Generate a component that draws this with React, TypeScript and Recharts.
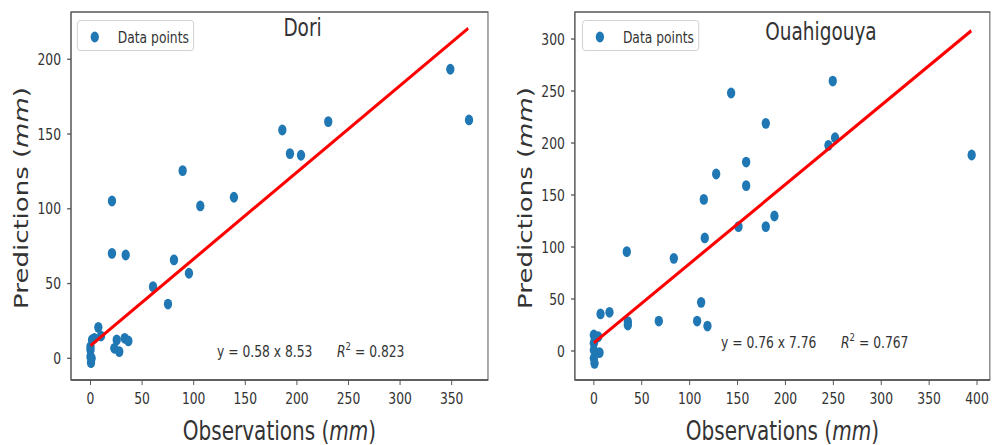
import React from 'react';
import { ScatterChart, Scatter, XAxis, YAxis, ReferenceArea, Legend } from 'recharts';

// ---------- data ----------
const doriObs = [348.7, 366.8, 230.4, 185.9, 193.3, 204.0, 89.3, 139.0, 106.4, 20.8, 20.8, 34.1, 80.9, 95.4, 60.6, 75.1, 7.6, 3.7, 10.2, 25.4, 33.1, 36.7, 23.1, 27.9, 0, 0, 0.5, 1.1, 0, 1.5];
const doriPred = [193.3, 159.4, 158.3, 152.7, 136.9, 135.8, 125.5, 107.7, 101.9, 105.2, 70.2, 69.1, 65.8, 56.9, 47.9, 36.3, 20.7, 13.4, 14.9, 12.3, 13.4, 11.6, 6.7, 4.5, 5.6, 1.1, -2.9, 0, 7.8, 12.3];
const doriFitX = [0, 366];
const doriFitY = [8.5, 220.7];

const ouaObs = [249.4, 143.3, 179.5, 244.9, 251.8, 394.4, 159.0, 127.7, 159.0, 114.8, 188.5, 151.0, 179.5, 115.8, 34.4, 83.5, 112.0, 7.0, 16.3, 35.5, 35.5, 67.8, 107.8, 118.6, 0, 4.5, 0, 5.9, 0, 0.7, 0, 1];
const ouaPred = [259.6, 248.1, 218.9, 197.8, 205.1, 188.5, 181.7, 170.2, 159.0, 145.8, 129.8, 119.6, 119.6, 108.7, 95.5, 89.1, 46.8, 35.6, 37.2, 28.2, 25.0, 28.8, 28.8, 24.0, 15.4, 13.8, 7.4, -1.6, -7.1, -11.9, 1.0, 10.6];
const ouaFitX = [0, 394];
const ouaFitY = [7.8, 308];

const doriXTicks = [0, 50, 100, 150, 200, 250, 300, 350];
const doriYTicks = [0, 50, 100, 150, 200];
const ouaXTicks = [0, 50, 100, 150, 200, 250, 300, 350, 400];
const ouaYTicks = [0, 50, 100, 150, 200, 250, 300];

const titles = ['Dori', 'Ouahigouya'];
const equations = ['y = 0.58 x 8.53', 'y = 0.76 x 7.76'];
const r2Values = ['0.823', '0.767'];
const legendLabel = 'Data points';

// ---------- styling / layout ----------
const S = 0.77; // horizontal squash of the original figure
const INNER_W = 992 / S;
const H = 445;
const TEXT = '#333333';
const FRAME = '#555555';
const DOT = '#1f77b4';
const FONT = '"DejaVu Sans", sans-serif';

type Geo = {
  chartLeft: number; chartWidth: number; plotLeft: number; plotRight: number;
  top: number; bottom: number; xDomain: [number, number]; yDomain: [number, number];
  titleX: number; titleY: number; eqX: number; eqY: number; legendX: number;
};

const geoms: Geo[] = [
  { chartLeft: 0, chartWidth: 496, plotLeft: 71, plotRight: 488, top: 12, bottom: 380,
    xDomain: [-18.9, 385.2], yDomain: [-14.5, 231.6], titleX: 302.5, titleY: 36.5, eqX: 217, eqY: 357, legendX: 77 },
  { chartLeft: 496, chartWidth: 496, plotLeft: 575, plotRight: 990, top: 12, bottom: 380,
    xDomain: [-19.8, 413.4], yDomain: [-27.9, 326.0], titleX: 821, titleY: 40, eqX: 721, eqY: 348.5, legendX: 582 },
];

const Dot = (p: any) => <circle cx={p.cx} cy={p.cy} r={5.4} fill={DOT} />;
const NoDot = () => <g />;

const XLabel = (props: any) => {
  const vb = props.viewBox;
  return (
    <text x={vb.x + vb.width / 2} y={440} textAnchor="middle" fontSize={26} fill={TEXT} fontFamily={FONT}>
      Observations (<tspan fontStyle="italic">mm</tspan>)
    </text>
  );
};

const YLabel = (props: any) => {
  const vb = props.viewBox;
  const x = vb.x + vb.width - 42.5 / S;
  const y = vb.y + vb.height / 2 + 2;
  return (
    <text x={x} y={y} transform={`rotate(-90, ${x}, ${y})`} textAnchor="middle" fontSize={26} fill={TEXT} fontFamily={FONT}>
      Predictions (<tspan fontStyle="italic">mm</tspan>)
    </text>
  );
};

const LegendBox = () => (
  <div style={{
    width: 117 / S, height: 31, boxSizing: 'border-box', border: '1px solid #cccccc', borderRadius: 4,
    background: 'white', position: 'relative', fontFamily: FONT,
  }}>
    <svg width={117 / S} height={31} style={{ position: 'absolute', left: 0, top: 0 }}>
      <circle cx={17 / S} cy={16} r={5.4} fill={DOT} />
      <text x={40 / S} y={22} fontSize={16} fill={TEXT} fontFamily={FONT}>{legendLabel}</text>
    </svg>
  </div>
);

function Panel({ i, obs, pred, fitX, fitY, xTicks, yTicks }: any) {
  const g = geoms[i];
  const data = obs.map((x: number, k: number) => ({ x, y: pred[k] }));
  const fitData = fitX.map((x: number, k: number) => ({ x, y: fitY[k] }));
  const tickStyle = { fontSize: 16, fill: TEXT, fontFamily: FONT };
  return (
    <div style={{ position: 'absolute', left: g.chartLeft / S, top: 0 }}>
      <ScatterChart
        width={g.chartWidth / S}
        height={H}
        margin={{ top: g.top, right: (g.chartLeft + g.chartWidth - g.plotRight) / S, bottom: 0, left: 0 }}
      >
        <XAxis
          type="number" dataKey="x" domain={g.xDomain} ticks={xTicks} allowDataOverflow
          height={H - g.bottom} tickSize={5} tickMargin={8} tick={tickStyle}
          axisLine={{ stroke: FRAME, strokeWidth: 1.3 }} tickLine={{ stroke: FRAME, strokeWidth: 1.3 }}
          label={{ content: XLabel }}
        />
        <YAxis
          type="number" dataKey="y" domain={g.yDomain} ticks={yTicks} allowDataOverflow
          width={(g.plotLeft - g.chartLeft) / S} tickSize={5} tickMargin={8} tick={tickStyle}
          axisLine={{ stroke: FRAME, strokeWidth: 1.3 }} tickLine={{ stroke: FRAME, strokeWidth: 1.3 }}
          label={{ content: YLabel }}
        />
        <ReferenceArea
          x1={g.xDomain[0]} x2={g.xDomain[1]} y1={g.yDomain[0]} y2={g.yDomain[1]}
          fill="none" fillOpacity={0} stroke={FRAME} strokeWidth={1.3} strokeOpacity={1} ifOverflow="visible"
        />
        <Legend
          layout="horizontal" verticalAlign="middle" align="center"
          wrapperStyle={{ left: (g.legendX - g.chartLeft) / S, top: 20, width: 117 / S, height: 31 }}
          content={() => <LegendBox />}
        />
        <Scatter name={legendLabel} data={data} fill={DOT} shape={Dot} isAnimationActive={false} />
        <Scatter
          name="fit" data={fitData} shape={NoDot} legendType="none"
          line={{ stroke: '#ff0000', strokeWidth: 3.4 }} lineType="joint" isAnimationActive={false}
        />
      </ScatterChart>
    </div>
  );
}

export default function App() {
  return (
    <div style={{ position: 'absolute', left: 0, top: 0, width: 992, height: H, overflow: 'hidden', background: 'white' }}>
      <div style={{ position: 'absolute', left: 0, top: 0, width: INNER_W, height: H, transform: `scaleX(${S})`, transformOrigin: '0 0' }}>
        <Panel i={0} obs={doriObs} pred={doriPred} fitX={doriFitX} fitY={doriFitY} xTicks={doriXTicks} yTicks={doriYTicks} />
        <Panel i={1} obs={ouaObs} pred={ouaPred} fitX={ouaFitX} fitY={ouaFitY} xTicks={ouaXTicks} yTicks={ouaYTicks} />
        <svg width={INNER_W} height={H} style={{ position: 'absolute', left: 0, top: 0, pointerEvents: 'none' }}>
          {geoms.map((g, i) => (
            <g key={i} fontFamily={FONT} fill={TEXT}>
              <text x={g.titleX / S} y={g.titleY} textAnchor="middle" fontSize={24}>{titles[i]}</text>
              <text x={g.eqX / S} y={g.eqY} fontSize={16}>
                {equations[i]}
                <tspan dx={27}> </tspan>
                <tspan fontStyle="italic">R</tspan>
                <tspan dy={-7} fontSize={11}>2</tspan>
                <tspan dy={7}>{' = ' + r2Values[i]}</tspan>
              </text>
            </g>
          ))}
        </svg>
      </div>
    </div>
  );
}
